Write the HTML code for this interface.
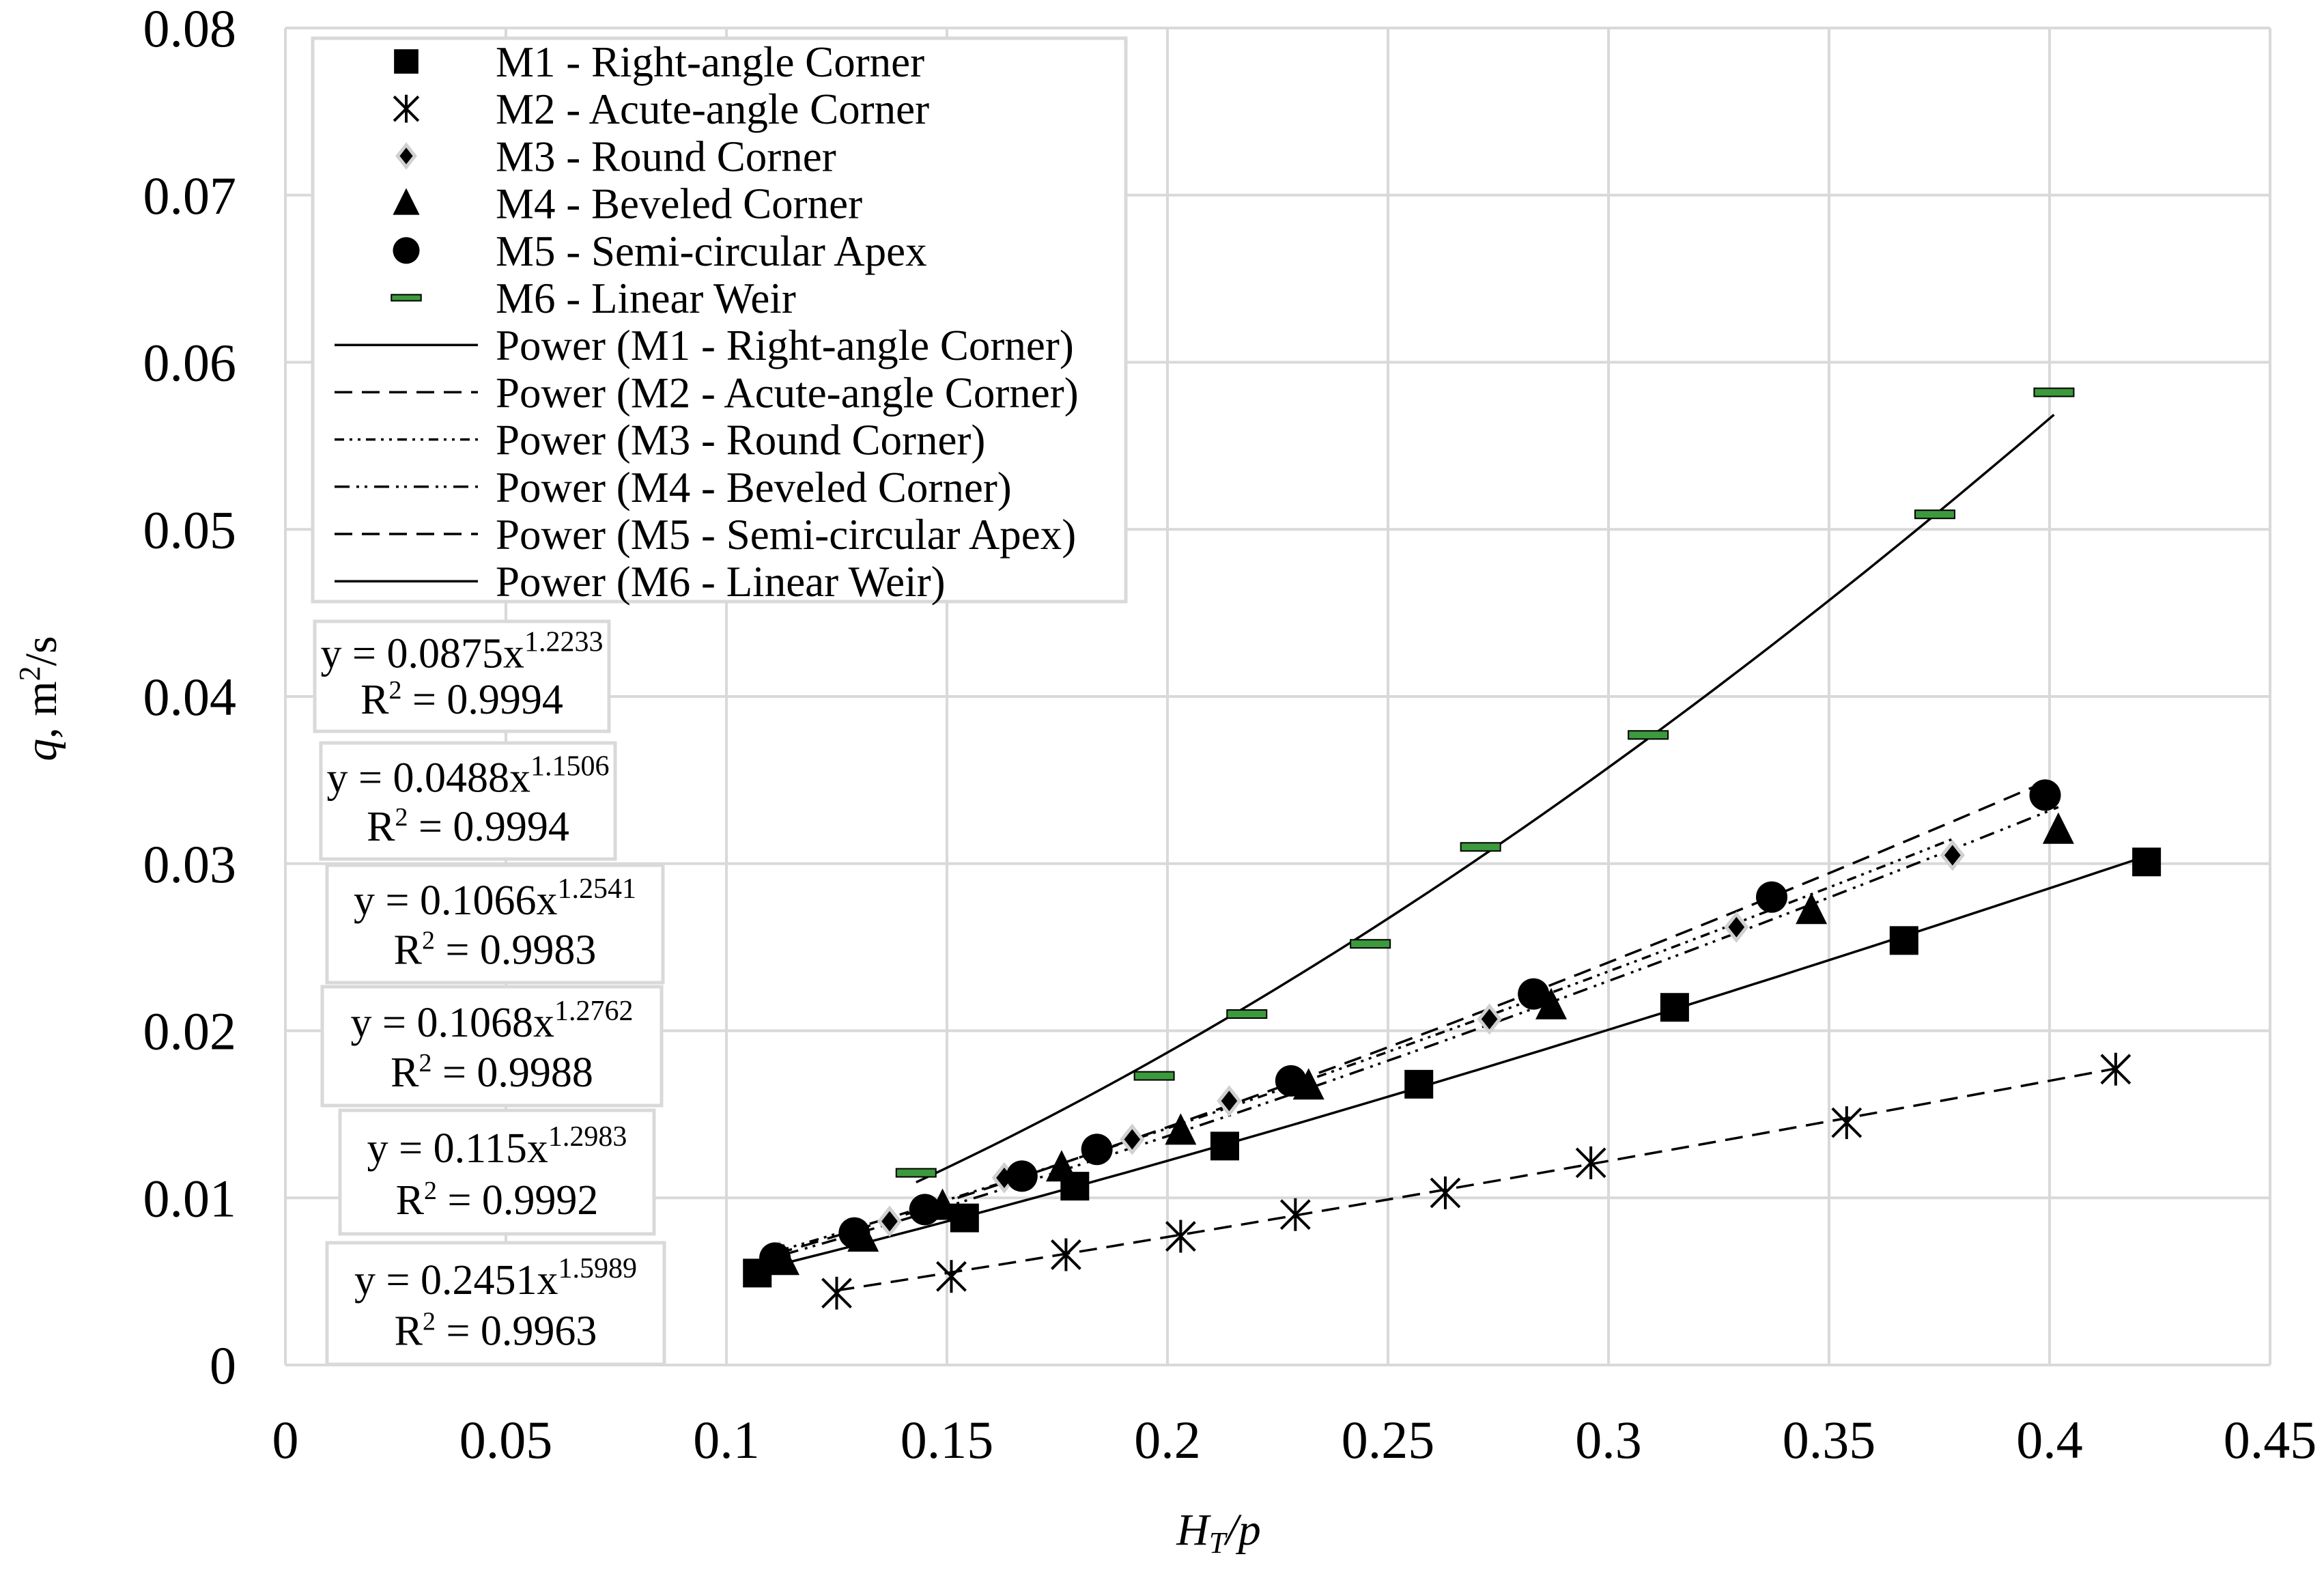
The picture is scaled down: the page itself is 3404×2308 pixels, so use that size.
<!DOCTYPE html>
<html><head><meta charset="utf-8"><style>
html,body{margin:0;padding:0;background:#fff}
svg{display:block;font-family:"Liberation Serif",serif}
</style></head><body>
<svg id="chart" width="3404" height="2308" viewBox="0 0 3404 2308" xmlns="http://www.w3.org/2000/svg">
<rect width="3404" height="2308" fill="#fff"/>
<g id="grid"></g>
<g id="ticks"></g>
<g id="lines"></g>
<g id="marks"></g>
<g id="legend"></g>
<g id="eqs"></g>
<text transform="translate(82,1023) rotate(-90)" text-anchor="middle" font-size="66"><tspan font-style="italic">q</tspan>, m<tspan dy="-24" font-size="44">2</tspan><tspan dy="24">/s</tspan></text>
<text x="1785" y="2262" text-anchor="middle" font-size="66" font-style="italic">H<tspan dy="12" font-size="44">T</tspan><tspan dy="-12">/p</tspan></text>
</svg>
<script>
const xTicks=[0,0.05,0.1,0.15,0.2,0.25,0.3,0.35,0.4,0.45];
const yTicks=[0,0.01,0.02,0.03,0.04,0.05,0.06,0.07,0.08];
const seriesNames=["M1 - Right-angle Corner","M2 - Acute-angle Corner","M3 - Round Corner","M4 - Beveled Corner","M5 - Semi-circular Apex","M6 - Linear Weir"];
const m1x=[0.107,0.154,0.179,0.213,0.257,0.315,0.367,0.422];
const m1y=[0.0055,0.0088,0.0107,0.0131,0.0168,0.0214,0.0254,0.0301];
const m2x=[0.125,0.151,0.177,0.203,0.229,0.263,0.296,0.354,0.415];
const m2y=[0.0043,0.0053,0.0066,0.0077,0.0090,0.0103,0.0121,0.0145,0.0177];
const m3x=[0.112,0.137,0.163,0.192,0.214,0.273,0.329,0.378];
const m3y=[0.0065,0.0086,0.0112,0.0135,0.0158,0.0207,0.0262,0.0305];
const m4x=[0.113,0.131,0.149,0.176,0.203,0.232,0.287,0.346,0.402];
const m4y=[0.0062,0.0076,0.0095,0.0118,0.0140,0.0167,0.0215,0.0272,0.0320];
const m5x=[0.111,0.129,0.145,0.167,0.184,0.228,0.283,0.337,0.399];
const m5y=[0.0064,0.0079,0.0093,0.0113,0.0129,0.0170,0.0222,0.0280,0.0341];
const m6x=[0.143,0.197,0.218,0.246,0.271,0.309,0.374,0.401];
const m6y=[0.0115,0.0173,0.0210,0.0252,0.0310,0.0377,0.0509,0.0582];
const fitA=[0.0875,0.0488,0.1066,0.1068,0.115,0.2451];
const fitB=[1.2233,1.1506,1.2541,1.2762,1.2983,1.5989];
const fitR2=["0.9994","0.9994","0.9983","0.9988","0.9992","0.9963"];

const NS="http://www.w3.org/2000/svg";
const X0=418,X1=3325,Y0=1999,Y1=41;
const sx=v=>X0+(v-0)/(0.45)*(X1-X0);
const sy=v=>Y0-(v/0.08)*(Y0-Y1);
function mk(tag,attrs,parent){const e=document.createElementNS(NS,tag);for(const k in attrs)e.setAttribute(k,attrs[k]);parent.appendChild(e);return e;}
const G=id=>document.getElementById(id);

xTicks.forEach(t=>{const l=mk('line',{x1:sx(t),x2:sx(t),y1:Y1,y2:Y0,stroke:'#d9d9d9','stroke-width':4},G('grid'));


const tx=mk('text',{x:sx(t),y:2135,'text-anchor':'middle','font-size':78},G('ticks'));tx.textContent=String(t);

});
yTicks.forEach(t=>{const l=mk('line',{x1:X0,x2:X1,y1:sy(t),y2:sy(t),stroke:'#d9d9d9','stroke-width':4},G('grid'));


const tx=mk('text',{x:346,y:sy(t)+27,'text-anchor':'end','font-size':78},G('ticks'));tx.textContent=String(t);

});

const xs=[m1x,m2x,m3x,m4x,m5x,m6x], ys=[m1y,m2y,m3y,m4y,m5y,m6y];
const dashes=["none","26 14","14 8 4 8 4 8","22 10 4 8 4 10","26 14","none"];
for(let i=0;i<6;i++){
 const lo=Math.min(...xs[i]),hi=Math.max(...xs[i]);let d="";
 for(let k=0;k<=60;k++){const x=lo+(hi-lo)*k/60;const y=fitA[i]*Math.pow(x,fitB[i]);d+=(k?"L":"M")+sx(x).toFixed(1)+","+sy(y).toFixed(1);}
 const p=mk('path',{d:d,fill:'none',stroke:'#000','stroke-width':3.5,'stroke-dasharray':dashes[i]},G('lines'));
 
 
}

function marker(type,cx,cy,parent,scale){
 const s=scale||1;let e;
 if(type===0){e=mk('rect',{x:cx-21*s,y:cy-21*s,width:42*s,height:42*s,fill:'#000'},parent);}
 else if(type===1){e=mk('path',{d:`M${cx-21*s},${cy-21*s}L${cx+21*s},${cy+21*s}M${cx+21*s},${cy-21*s}L${cx-21*s},${cy+21*s}M${cx},${cy-24*s}L${cx},${cy+24*s}`,stroke:'#000','stroke-width':4,fill:'none'},parent);}
 else if(type===2){e=mk('path',{d:`M${cx},${cy-19*s}L${cx+15*s},${cy}L${cx},${cy+19*s}L${cx-15*s},${cy}Z`,fill:'#000',stroke:'#d0d0d0','stroke-width':5},parent);}
 else if(type===3){e=mk('path',{d:`M${cx},${cy-26*s}L${cx+23*s},${cy+20*s}L${cx-23*s},${cy+20*s}Z`,fill:'#000'},parent);}
 else if(type===4){e=mk('circle',{cx:cx,cy:cy,r:23*s,fill:'#000'},parent);}
 else {e=mk('rect',{x:cx-29*s,y:cy-6*s,width:58*s,height:12*s,fill:'#3c9a3c',stroke:'#000','stroke-width':2},parent);}
 return e;
}
for(let i=0;i<6;i++){for(let k=0;k<xs[i].length;k++){
 const e=marker(i,sx(xs[i][k]),sy(ys[i][k]),G('marks'));
 
 
}}

const L=G('legend');
const lb=mk('rect',{x:458,y:56,width:1191,height:825,fill:'#fff',stroke:'#d9d9d9','stroke-width':5},L);


for(let r=0;r<12;r++){
 const cy=90+r*69.2;
 const g=mk('g',{},L);
 
 
 if(r<6){marker(r,595,cy,g,r===5?0.75:0.85);}
 else{const i=r-6;mk('line',{x1:490,x2:700,y1:cy,y2:cy,stroke:'#000','stroke-width':3.5,'stroke-dasharray':dashes[i]},g);}
 const t=mk('text',{x:726,y:cy+22,'font-size':63},g);
 t.textContent=r<6?seriesNames[r]:"Power ("+seriesNames[r-6]+")";
}

const boxes=[[461,910,431,161],[470,1088,431,170],[479,1267,492,172],[472,1445,497,174],[498,1626,460,181],[479,1820,494,178]];
for(let i=0;i<6;i++){
 const [bx,by,bw,bh]=boxes[i];const g=mk('g',{},G('eqs'));
 
 
 mk('rect',{x:bx,y:by,width:bw,height:bh,fill:'#fff',stroke:'#d9d9d9','stroke-width':5},g);
 const t1=mk('text',{x:bx+bw/2,y:by+bh*0.42,'text-anchor':'middle','font-size':62},g);
 t1.innerHTML=`y = ${fitA[i]}x<tspan dy="-24" font-size="42">${fitB[i]}</tspan>`;
 const t2=mk('text',{x:bx+bw/2,y:by+bh*0.84,'text-anchor':'middle','font-size':62},g);
 t2.innerHTML=`R<tspan dy="-22" font-size="38">2</tspan><tspan dy="22"> = ${fitR2[i]}</tspan>`;
}
</script>
</body></html>
